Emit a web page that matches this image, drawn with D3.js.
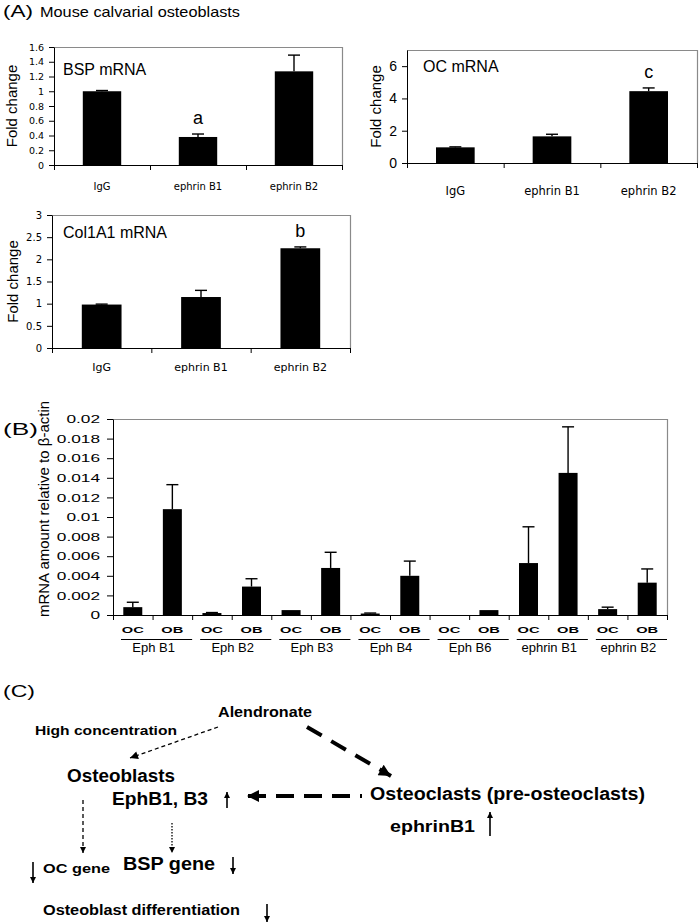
<!DOCTYPE html>
<html>
<head>
<meta charset="utf-8">
<script src="https://cdn.jsdelivr.net/npm/d3@7"></script>
<style>
  body { margin: 0; background: #fff; }
  svg { display: block; }
</style>
</head>
<body>
<div id="fig"></div>
<script>
// ---- panel A data ----
const aCategories = ["IgG", "ephrin B1", "ephrin B2"]
const bspValues = [1.0, 0.38, 1.27]
const bspUpper = [1.01, 0.42, 1.49]
const bspLetters = ["", "a", ""]
const bspTicks = [0, 0.2, 0.4, 0.6, 0.8, 1, 1.2, 1.4, 1.6]

const ocValues = [0.97, 1.65, 4.45]
const ocUpper = [1.0, 1.78, 4.65]
const ocLetters = ["", "", "c"]
const ocTicks = [0, 2, 4, 6]

const colValues = [0.98, 1.15, 2.25]
const colUpper = [0.99, 1.3, 2.28]
const colLetters = ["", "", "b"]
const colTicks = [0, 0.5, 1, 1.5, 2, 2.5, 3]

// ---- panel B data ----
const bGroups = ["Eph B1", "Eph B2", "Eph B3", "Eph B4", "Eph B6", "ephrin B1", "ephrin B2"]
const bCells = ["OC", "OB"]
const bOC = [0.0008, 0.0002, 0.0005, 0.00015, 0, 0.0053, 0.0006]
const bOCUpper = [0.0013, 0.00025, 0.0005, 0.0002, 0, 0.009, 0.0008]
const bOB = [0.0108, 0.0029, 0.0048, 0.0040, 0.0005, 0.0145, 0.0033]
const bOBUpper = [0.0133, 0.0037, 0.0064, 0.0055, 0.0005, 0.0192, 0.0047]
const bTicks = [0, 0.002, 0.004, 0.006, 0.008, 0.01, 0.012, 0.014, 0.016, 0.018, 0.02]

// ---- panel C text ----
const cLabels = ["Alendronate", "High concentration", "Osteoblasts", "EphB1, B3",
  "Osteoclasts (pre-osteoclasts)", "ephrinB1", "OC gene", "BSP gene", "Osteoblast differentiation"]

const SANS = "'Liberation Sans', Arial, sans-serif"
const VERD = "'DejaVu Sans', Verdana, sans-serif"

const svg = d3.select("#fig").append("svg")
  .attr("width", 700)
  .attr("height", 924)
  .style("font-family", SANS)

svg.append("rect").attr("width", 700).attr("height", 924).attr("fill", "#fff")

function fitTo(sel, w) {
  sel.attr("textLength", w).attr("lengthAdjust", "spacingAndGlyphs")
}
function stretch(sel, k) {
  sel.each(function () {
    const w = this.getComputedTextLength()
    d3.select(this).attr("textLength", w * k).attr("lengthAdjust", "spacingAndGlyphs")
  })
}

// panel headings
svg.append("text").attr("x", 3).attr("y", 17).attr("font-size", 17).text("(A)").call(fitTo, 30)
svg.append("text").attr("x", 40).attr("y", 17).attr("font-size", 14.5).text("Mouse calvarial osteoblasts").call(fitTo, 200)
svg.append("text").attr("x", 3).attr("y", 435).attr("font-size", 17).text("(B)").call(fitTo, 35)
svg.append("text").attr("x", 3).attr("y", 697).attr("font-size", 17).text("(C)").call(fitTo, 32)

// ---- panel A: three small bar charts ----
const aCharts = [
  { name: "BSP mRNA", values: bspValues, upper: bspUpper, letters: bspLetters, ticks: bspTicks,
    max: 1.6, box: { l: 54, t: 47, r: 342, b: 165 }, tickFont: VERD, tickSize: 9.5,
    catFont: VERD, catSize: 10, catY: 190, nameXY: [63, 75], titleX: 11 },
  { name: "OC mRNA", values: ocValues, upper: ocUpper, letters: ocLetters, ticks: ocTicks,
    max: 7, box: { l: 407, t: 50, r: 697, b: 163 }, tickFont: SANS, tickSize: 14,
    catFont: VERD, catSize: 11.5, catY: 195, nameXY: [423, 72], titleX: 375 },
  { name: "Col1A1 mRNA", values: colValues, upper: colUpper, letters: colLetters, ticks: colTicks,
    max: 3, box: { l: 52, t: 215, r: 350, b: 348 }, tickFont: VERD, tickSize: 10,
    catFont: VERD, catSize: 11, catY: 371, nameXY: [63, 238], titleX: 12 }
]

aCharts.forEach(c => {
  const { l, t, r, b } = c.box
  const x = d3.scaleBand().domain(aCategories).range([l, r])
  const xEdge = d3.scaleLinear().domain([0, aCategories.length]).range([l, r])
  const y = d3.scaleLinear().domain([0, c.max]).range([b, t])
  const g = svg.append("g")

  // plot frame (top + right)
  g.append("path")
    .attr("d", `M${l},${t + 0.5}H${r + 0.5}V${b}`)
    .attr("fill", "none").attr("stroke", "#8a8a8a").attr("stroke-width", 1.2)

  const bw = x.bandwidth() * 0.4
  g.selectAll("rect.bar").data(c.values).join("rect")
    .attr("class", "bar")
    .attr("x", (d, i) => x(aCategories[i]) + (x.bandwidth() - bw) / 2)
    .attr("y", d => y(d))
    .attr("width", bw)
    .attr("height", d => y(0) - y(d))
    .attr("fill", "#000")

  // error bars
  const eb = g.selectAll("g.err").data(c.upper).join("g").attr("class", "err")
  eb.append("line")
    .attr("x1", (d, i) => x(aCategories[i]) + x.bandwidth() / 2)
    .attr("x2", (d, i) => x(aCategories[i]) + x.bandwidth() / 2)
    .attr("y1", (d, i) => y(c.values[i]))
    .attr("y2", d => y(d))
    .attr("stroke", "#000").attr("stroke-width", 1.4)
  eb.append("line")
    .attr("x1", (d, i) => x(aCategories[i]) + x.bandwidth() / 2 - 6)
    .attr("x2", (d, i) => x(aCategories[i]) + x.bandwidth() / 2 + 6)
    .attr("y1", d => y(d))
    .attr("y2", d => y(d))
    .attr("stroke", "#000").attr("stroke-width", 1.4)

  // significance letters
  g.selectAll("text.sig").data(c.letters).join("text")
    .attr("class", "sig")
    .attr("x", (d, i) => x(aCategories[i]) + x.bandwidth() / 2)
    .attr("y", (d, i) => y(c.upper[i]) - 10)
    .attr("text-anchor", "middle")
    .attr("font-size", 18)
    .text(d => d)

  // axes
  const gy = g.append("g")
    .attr("transform", `translate(${l},0)`)
    .call(d3.axisLeft(y).tickValues(c.ticks).tickSize(5).tickPadding(5).tickSizeOuter(0)
      .tickFormat(d => String(+d.toFixed(2))))
  gy.selectAll("text").attr("font-family", c.tickFont).attr("font-size", c.tickSize)

  g.append("g")
    .attr("transform", `translate(0,${b})`)
    .call(d3.axisBottom(xEdge).tickValues(d3.range(aCategories.length + 1)).tickSize(5).tickSizeOuter(0).tickFormat(""))

  g.selectAll("text.cat").data(aCategories).join("text")
    .attr("class", "cat")
    .attr("x", d => x(d) + x.bandwidth() / 2)
    .attr("y", c.catY)
    .attr("text-anchor", "middle")
    .attr("font-family", c.catFont)
    .attr("font-size", c.catSize)
    .text(d => d)

  g.append("text")
    .attr("x", c.nameXY[0]).attr("y", c.nameXY[1])
    .attr("font-size", 16)
    .text(c.name)

  g.append("text")
    .attr("transform", `translate(${c.titleX},${(t + b) / 2}) rotate(-90)`)
    .attr("text-anchor", "middle")
    .attr("dominant-baseline", "central")
    .attr("font-size", 15)
    .text("Fold change")
})

// ---- panel B ----
{
  const L = 113, T = 419, R = 667, B = 615
  const x0 = d3.scaleBand().domain(bGroups).range([L, R])
  const x1 = d3.scaleBand().domain(bCells).range([0, x0.bandwidth()])
  const xEdge = d3.scaleLinear().domain([0, bGroups.length * bCells.length]).range([L, R])
  const y = d3.scaleLinear().domain([0, 0.02]).range([B, T])
  const g = svg.append("g")

  g.append("path")
    .attr("d", `M${L},${T + 0.5}H${R + 0.5}V${B}`)
    .attr("fill", "none").attr("stroke", "#8a8a8a").attr("stroke-width", 1.2)

  const rows = []
  bGroups.forEach((grp, i) => {
    rows.push({ grp, cell: "OC", v: bOC[i], up: bOCUpper[i] })
    rows.push({ grp, cell: "OB", v: bOB[i], up: bOBUpper[i] })
  })
  const cx = d => x0(d.grp) + x1(d.cell) + x1.bandwidth() / 2
  const bw = x1.bandwidth() * 0.48

  g.selectAll("rect.bar").data(rows).join("rect")
    .attr("class", "bar")
    .attr("x", d => cx(d) - bw / 2)
    .attr("y", d => y(d.v))
    .attr("width", bw)
    .attr("height", d => y(0) - y(d.v))
    .attr("fill", "#000")

  const eb = g.selectAll("g.err").data(rows.filter(d => d.up > d.v)).join("g").attr("class", "err")
  eb.append("line")
    .attr("x1", cx).attr("x2", cx)
    .attr("y1", d => y(d.v)).attr("y2", d => y(d.up))
    .attr("stroke", "#000").attr("stroke-width", 1.4)
  eb.append("line")
    .attr("x1", d => cx(d) - 6).attr("x2", d => cx(d) + 6)
    .attr("y1", d => y(d.up)).attr("y2", d => y(d.up))
    .attr("stroke", "#000").attr("stroke-width", 1.4)

  const gy = g.append("g")
    .attr("transform", `translate(${L},0)`)
    .call(d3.axisLeft(y).tickValues(bTicks).tickSize(6).tickPadding(7).tickSizeOuter(0)
      .tickFormat(d => String(+d.toFixed(3))))
  gy.selectAll("text").attr("font-family", SANS).attr("font-size", 11.5).call(stretch, 1.5)

  g.append("g")
    .attr("transform", `translate(0,${B})`)
    .call(d3.axisBottom(xEdge).tickValues(d3.range(bGroups.length * bCells.length + 1))
      .tickSize(5).tickSizeOuter(0).tickFormat(""))

  g.selectAll("text.cell").data(rows).join("text")
    .attr("class", "cell")
    .attr("x", cx)
    .attr("y", 633)
    .attr("text-anchor", "middle")
    .attr("font-size", 9)
    .attr("font-weight", "bold")
    .text(d => d.cell)
    .call(fitTo, 22)

  g.selectAll("line.under").data(bGroups).join("line")
    .attr("class", "under")
    .attr("x1", d => x0(d) + 8).attr("x2", d => x0(d) + x0.bandwidth())
    .attr("y1", 639.5).attr("y2", 639.5)
    .attr("stroke", "#000").attr("stroke-width", 1.2)

  g.selectAll("text.grp").data(bGroups).join("text")
    .attr("class", "grp")
    .attr("x", d => x0(d) + x0.bandwidth() / 2 + 1)
    .attr("y", 652)
    .attr("text-anchor", "middle")
    .attr("font-size", 13)
    .text(d => d)

  g.append("text")
    .attr("transform", `translate(43,${(T + B) / 2 - 8}) rotate(-90)`)
    .attr("text-anchor", "middle")
    .attr("dominant-baseline", "central")
    .attr("font-size", 15)
    .text("mRNA amount relative to \u03b2-actin")
}

// ---- panel C: scheme ----
{
  const defs = svg.append("defs")
  const heads = [
    { id: "hThin", w: 10, h: 8 },
    { id: "hThick", w: 16, h: 12 },
    { id: "hSmall", w: 7, h: 6 }
  ]
  heads.forEach(h => {
    defs.append("marker")
      .attr("id", h.id)
      .attr("viewBox", "0 0 10 10")
      .attr("refX", 10).attr("refY", 5)
      .attr("markerUnits", "userSpaceOnUse")
      .attr("markerWidth", h.w).attr("markerHeight", h.h)
      .attr("orient", "auto")
      .append("path").attr("d", "M0,0L10,5L0,10z").attr("fill", "#000")
  })

  const layout = [
    { x: 218, y: 717, w: 94, size: 14 },
    { x: 35, y: 735, w: 142, size: 13.5 },
    { x: 67, y: 782, w: 108, size: 18 },
    { x: 112, y: 805, w: 96, size: 18 },
    { x: 370, y: 800, w: 275, size: 18 },
    { x: 390, y: 832, w: 85, size: 16 },
    { x: 43, y: 873, w: 67, size: 13 },
    { x: 123, y: 870, w: 92, size: 18 },
    { x: 43, y: 915, w: 197, size: 14 }
  ]
  svg.selectAll("text.node").data(cLabels).join("text")
    .attr("class", "node")
    .attr("x", (d, i) => layout[i].x)
    .attr("y", (d, i) => layout[i].y)
    .attr("font-size", (d, i) => layout[i].size)
    .attr("font-weight", "bold")
    .attr("textLength", (d, i) => layout[i].w)
    .attr("lengthAdjust", "spacingAndGlyphs")
    .text(d => d)

  const links = [
    { x1: 218, y1: 727, x2: 130, y2: 758, dash: "4,3", sw: 1.3, head: "hThin", off: 0 },
    { x1: 307, y1: 727, x2: 391, y2: 776, dash: "17,11", sw: 4, head: "hThick", off: 0 },
    { x1: 362, y1: 796, x2: 247, y2: 796, dash: "18,10", sw: 4, head: "hThick", off: 16 },
    { x1: 83, y1: 800, x2: 83, y2: 853, dash: "4,3", sw: 1.3, head: "hSmall", off: 0 },
    { x1: 172, y1: 823, x2: 172, y2: 853, dash: "1.5,1.5", sw: 1.3, head: "hSmall", off: 0 }
  ]
  svg.selectAll("line.link").data(links).join("line")
    .attr("class", "link")
    .attr("x1", d => d.x1).attr("y1", d => d.y1)
    .attr("x2", d => d.x2).attr("y2", d => d.y2)
    .attr("stroke", "#000")
    .attr("stroke-width", d => d.sw)
    .attr("stroke-dasharray", d => d.dash)
    .attr("stroke-dashoffset", d => d.off)
    .attr("marker-end", d => `url(#${d.head})`)

  // up / down change arrows
  const trend = [
    { x: 227, y1: 808, y2: 792 },
    { x: 490, y1: 836, y2: 812 },
    { x: 33, y1: 862, y2: 883 },
    { x: 233, y1: 857, y2: 874 },
    { x: 267, y1: 904, y2: 922 }
  ]
  svg.selectAll("line.trend").data(trend).join("line")
    .attr("class", "trend")
    .attr("x1", d => d.x).attr("x2", d => d.x)
    .attr("y1", d => d.y1).attr("y2", d => d.y2)
    .attr("stroke", "#000").attr("stroke-width", 1.6)
    .attr("marker-end", "url(#hSmall)")
}
</script>
</body>
</html>
